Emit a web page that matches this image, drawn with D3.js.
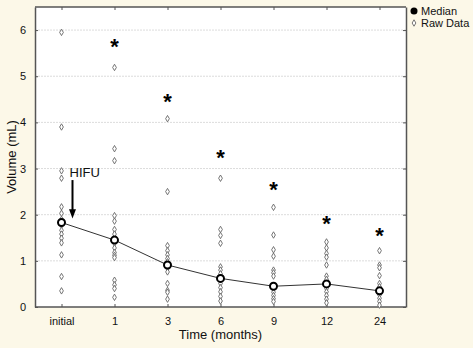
<!DOCTYPE html>
<html>
<head>
<meta charset="utf-8">
<script src="https://cdn.jsdelivr.net/npm/d3@7"></script>
<style>
  html, body { margin: 0; padding: 0; background: #fcf8e8; }
  svg { display: block; font-family: "Liberation Sans", Arial, sans-serif; }
</style>
</head>
<body>
<div id="chart"></div>
<script>
// Prostate volume after HIFU: raw data, medians and significance marks
const categories = ["initial", "1", "3", "6", "9", "12", "24"];

const rawInitial = [5.95, 3.9, 2.95, 2.79, 2.17, 2.03, 1.9, 1.77, 1.66, 1.58, 1.49, 1.39, 1.13, 0.66, 0.35];
const raw1 = [5.19, 3.43, 3.17, 1.98, 1.86, 1.68, 1.58, 1.38, 1.28, 1.18, 1.12, 1.07, 0.58, 0.48, 0.40, 0.21];
const raw3 = [4.08, 2.5, 1.33, 1.22, 1.13, 1.05, 0.98, 0.84, 0.76, 0.51, 0.36, 0.32, 0.17];
const raw6 = [2.79, 1.68, 1.55, 1.38, 0.87, 0.80, 0.72, 0.51, 0.42, 0.33, 0.23, 0.13];
const raw9 = [2.16, 1.56, 1.24, 1.10, 0.80, 0.74, 0.67, 0.32, 0.25, 0.18, 0.12];
const raw12 = [1.41, 1.28, 1.16, 1.08, 0.91, 0.67, 0.60, 0.40, 0.33, 0.25, 0.17, 0.09];
const raw24 = [1.22, 0.91, 0.85, 0.68, 0.51, 0.44, 0.26, 0.19, 0.12, 0.04];
const rawAll = [rawInitial, raw1, raw3, raw6, raw9, raw12, raw24];

const medians = [1.83, 1.45, 0.91, 0.62, 0.45, 0.50, 0.35];
const starCats = ["1", "3", "6", "9", "12", "24"];
const starValues = [5.76, 4.58, 3.36, 2.66, 1.93, 1.68];
const yTicks = [0, 1, 2, 3, 4, 5, 6];

const W = 473, H = 348;
const margin = {top: 7, right: 67, bottom: 41, left: 35};

const svg = d3.select("#chart").append("svg")
    .attr("width", W)
    .attr("height", H);

const x = d3.scalePoint()
    .domain(categories)
    .range([margin.left, W - margin.right])
    .padding(0.5);

const y = d3.scaleLinear()
    .domain([0, 6.5])
    .range([H - margin.bottom, margin.top]);

// plot background
svg.append("rect")
    .attr("x", margin.left)
    .attr("y", margin.top)
    .attr("width", W - margin.left - margin.right)
    .attr("height", H - margin.top - margin.bottom)
    .attr("fill", "#fff");

// gridlines
svg.append("g")
  .selectAll("line")
  .data(yTicks.filter(d => d > 0))
  .join("line")
    .attr("x1", margin.left)
    .attr("x2", W - margin.right)
    .attr("y1", d => y(d))
    .attr("y2", d => y(d))
    .attr("stroke", "#dcdcdc")
    .attr("stroke-dasharray", "2,1");

// axes
const axisColor = "#555";
function styleAxis(g) {
  g.select(".domain").attr("stroke", axisColor).attr("stroke-width", 1.5);
  g.selectAll(".tick line").attr("stroke", axisColor);
  g.selectAll(".tick text").attr("fill", "#111").attr("font-size", 11);
}

svg.append("g")
    .attr("transform", `translate(${margin.left},0)`)
    .call(d3.axisLeft(y).tickValues(yTicks).tickFormat(d3.format("d"))
      .tickSizeInner(-3).tickSizeOuter(0).tickPadding(9))
    .call(styleAxis);

svg.append("g")
    .attr("transform", `translate(${W - margin.right},0)`)
    .call(d3.axisRight(y).tickValues(yTicks).tickSizeInner(-3).tickSizeOuter(0).tickFormat(""))
    .call(styleAxis);

svg.append("g")
    .attr("transform", `translate(0,${H - margin.bottom})`)
    .call(d3.axisBottom(x).tickSizeInner(-3).tickSizeOuter(0).tickPadding(10))
    .call(styleAxis)
    .call(g => g.select(".domain").attr("d", `M${margin.left},0H${W - margin.right}`));

svg.append("g")
    .attr("transform", `translate(0,${margin.top})`)
    .call(d3.axisTop(x).tickSizeInner(-3).tickSizeOuter(0).tickFormat(""))
    .call(styleAxis)
    .call(g => g.select(".domain").attr("d", `M${margin.left},0H${W - margin.right}`));

svg.selectAll(".tick text").attr("font-family", null);

// axis titles
svg.append("text")
    .attr("x", x("6"))
    .attr("y", 339)
    .attr("text-anchor", "middle")
    .attr("font-size", 13)
    .attr("fill", "#111")
    .text("Time (months)");

svg.append("text")
    .attr("transform", `translate(16,${157}) rotate(-90)`)
    .attr("text-anchor", "middle")
    .attr("font-size", 13)
    .attr("fill", "#111")
    .text("Volume (mL)");

// raw data diamonds
const diamond = d3.symbol().type(d3.symbolDiamond).size(12);
svg.append("g")
  .selectAll("path")
  .data(rawAll.flatMap((vals, i) => vals.map(v => ({cat: categories[i], v}))))
  .join("path")
    .attr("transform", d => `translate(${x(d.cat)},${y(d.v)})`)
    .attr("d", diamond)
    .attr("fill", "#fff")
    .attr("stroke", "#666")
    .attr("stroke-width", 0.9);

// median line and points
svg.append("path")
    .datum(medians)
    .attr("fill", "none")
    .attr("stroke", "#333")
    .attr("stroke-width", 1)
    .attr("d", d3.line().x((d, i) => x(categories[i])).y(d => y(d)));

svg.append("g")
  .selectAll("circle")
  .data(medians)
  .join("circle")
    .attr("cx", (d, i) => x(categories[i]))
    .attr("cy", d => y(d))
    .attr("r", 3.5)
    .attr("fill", "#fff")
    .attr("stroke", "#000")
    .attr("stroke-width", 2);

// significance asterisks
svg.append("g")
  .selectAll("text")
  .data(starValues)
  .join("text")
    .attr("x", (d, i) => x(starCats[i]))
    .attr("y", d => y(d))
    .attr("dy", "0.6em")
    .attr("text-anchor", "middle")
    .attr("font-size", 22)
    .attr("font-weight", "bold")
    .attr("fill", "#000")
    .text("*");

// HIFU annotation
const ax = x("initial") + 11;
svg.append("text")
    .attr("x", ax - 3)
    .attr("y", y(2.8) - 1)
    .attr("font-size", 13)
    .attr("fill", "#111")
    .text("HIFU");

svg.append("line")
    .attr("x1", ax).attr("x2", ax)
    .attr("y1", y(2.75))
    .attr("y2", y(2.08))
    .attr("stroke", "#000")
    .attr("stroke-width", 2);

svg.append("path")
    .attr("d", `M${ax - 3.5},${y(2.12)}L${ax + 3.5},${y(2.12)}L${ax},${y(1.92)}Z`)
    .attr("fill", "#000");

// legend
const legend = svg.append("g").attr("font-size", 11).attr("fill", "#111");
legend.append("circle")
    .attr("cx", 414).attr("cy", 11).attr("r", 3.5)
    .attr("fill", "#000");
legend.append("text").attr("x", 421).attr("y", 15).text("Median");
legend.append("path")
    .attr("transform", "translate(414,23)")
    .attr("d", diamond)
    .attr("fill", "#fff")
    .attr("stroke", "#666")
    .attr("stroke-width", 0.9);
legend.append("text").attr("x", 421).attr("y", 27).text("Raw Data");
</script>
</body>
</html>
